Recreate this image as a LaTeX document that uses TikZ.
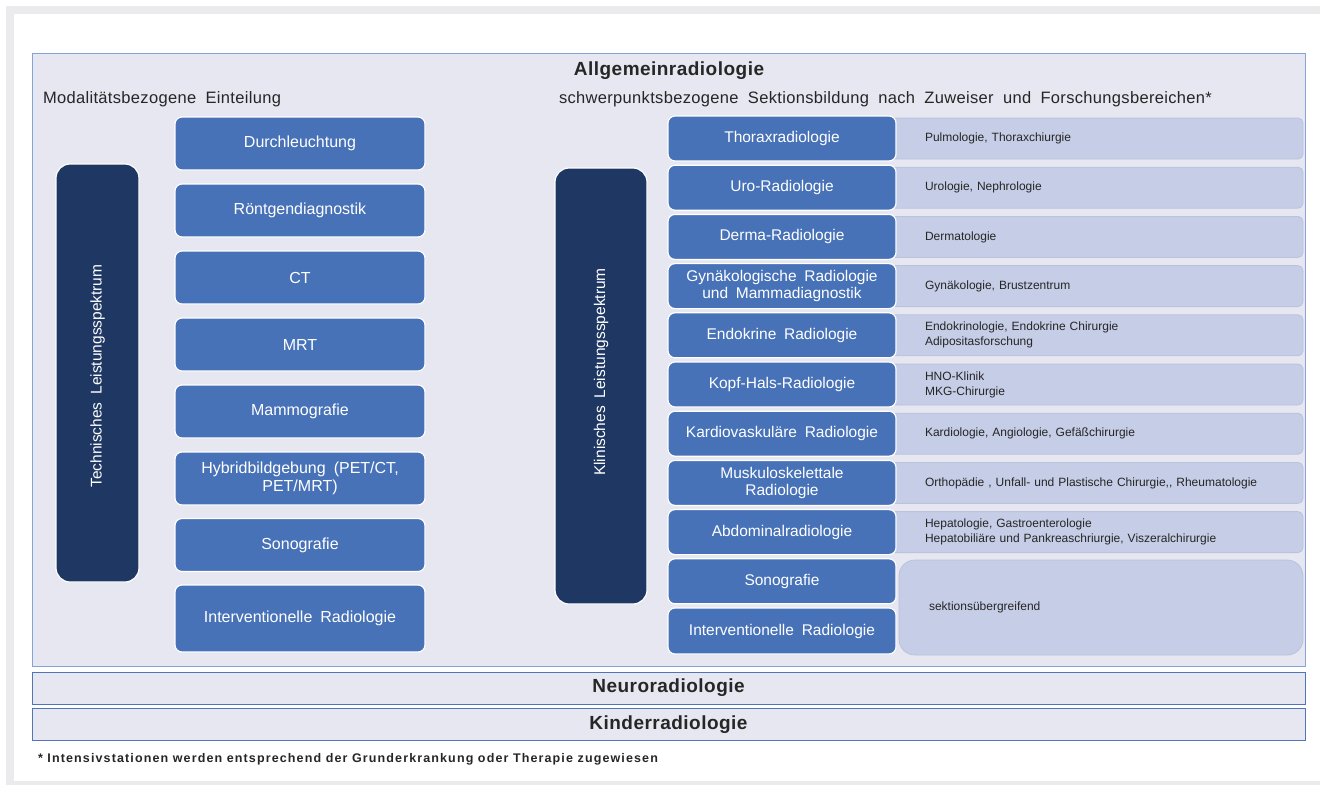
\documentclass[tikz,border=0pt]{standalone}
\usepackage{fontspec}
\setmainfont{Liberation Sans}
% Liberation Sans variants with wider word gaps / tracking
\newfontfamily\boxfont[WordSpace=1.6]{Liberation Sans}
\newfontfamily\tagfont[WordSpace=1.8]{Liberation Sans}
\newfontfamily\headfont[WordSpace=1.9,LetterSpace=2]{Liberation Sans}
\newfontfamily\titlefont[LetterSpace=2.5]{Liberation Sans}
\newfontfamily\notefont[LetterSpace=9]{Liberation Sans}
\definecolor{boxblue}{RGB}{71,114,184}
\definecolor{navy}{RGB}{31,56,99}
\definecolor{panel}{RGB}{230,231,240}
\definecolor{panelline}{RGB}{133,163,214}
\definecolor{barline}{RGB}{80,118,185}
\definecolor{tagfill}{RGB}{198,205,230}
\definecolor{tagline}{RGB}{186,194,220}
\definecolor{frame}{RGB}{235,235,237}
\definecolor{ink}{RGB}{38,38,38}
\begin{document}
\begin{tikzpicture}[x=1pt,y=-1pt,
  every node/.style={inner sep=0pt,outer sep=0pt,align=center},
  modbox/.style={font=\boxfont\fontsize{16}{18}\selectfont,
    draw=white,line width=1.2pt,fill=boxblue,rounded corners=7pt,
    text=white,minimum width=250pt,minimum height=53pt},
  secbox/.style={font=\boxfont\fontsize{15.5}{17.5}\selectfont,
    draw=white,line width=1.2pt,fill=boxblue,rounded corners=7pt,
    text=white,minimum width=228pt,minimum height=45pt},
  spine/.style={draw=white,line width=1.2pt,fill=navy,rounded corners=14pt},
  spinetext/.style={font=\boxfont\fontsize{15.5}{17.5}\selectfont,
    text=white,rotate=90},
  tagbox/.style={fill=tagfill,draw=tagline,line width=0.8pt,rounded corners=5pt,
    anchor=west,minimum height=41pt,inner xsep=35pt,text width=343pt,align=left,
    text=ink,font=\tagfont\fontsize{12}{15}\selectfont},
  bar/.style={draw=barline,line width=0.8pt,fill=panel,minimum width=1273pt,
    minimum height=32pt,text=ink,font=\titlefont\bfseries\fontsize{19}{21}\selectfont},
  heading/.style={text=ink,anchor=west,font=\headfont\fontsize{16.5}{18}\selectfont}
]
\useasboundingbox (0,0) rectangle (1320,785);

% page frame
\fill[frame] (6,6) rectangle (1320,785);
\fill[white] (14,14) rectangle (1320,781);

% general radiology panel
\node[draw=panelline,line width=0.9pt,fill=panel,minimum width=1273pt,minimum height=613pt]
  (panel) at (668.5,359.5) {};
\node[text=ink,font=\titlefont\bfseries\fontsize{19}{21}\selectfont]
  (title) at (669,71) {Allgemeinradiologie};
\node[heading] (lhead) at (43,99) {Modalitätsbezogene Einteilung};
\node[heading] (rhead) at (559,99) {schwerpunktsbezogene Sektionsbildung nach Zuweiser und Forschungsbereichen*};

% technical spectrum
\node[spine,minimum width=83pt,minimum height=418pt] (tech) at (97.5,373) {};
\node[spinetext] (techtext) at (97.5,376) {Technisches Leistungsspektrum};
\node[modbox] (m1) at (300,143.5) {Durchleuchtung};
\node[modbox] (m2) at (300,210.5) {Röntgendiagnostik};
\node[modbox] (m3) at (300,277.5) {CT};
\node[modbox] (m4) at (300,344.5) {MRT};
\node[modbox] (m5) at (300,411.5) {Mammografie};
\node[modbox] (m6) at (300,478.5) {Hybridbildgebung (PET/CT,\\PET/MRT)};
\node[modbox] (m7) at (300,545) {Sonografie};
\node[modbox,minimum height=67pt] (m8) at (300,618.5) {Interventionelle Radiologie};

% clinical spectrum
\node[spine,minimum width=92pt,minimum height=436pt] (clin) at (601,386) {};
\node[spinetext] (clintext) at (601,372) {Klinisches Leistungsspektrum};

% referring departments (drawn first, partly covered by the sections)
\node[tagbox] (t1) at (890,138.5) {Pulmologie, Thoraxchiurgie};
\node[tagbox] (t2) at (890,187.7) {Urologie, Nephrologie};
\node[tagbox] (t3) at (890,236.9) {Dermatologie};
\node[tagbox] (t4) at (890,286.1) {Gynäkologie, Brustzentrum};
\node[tagbox] (t5) at (890,335.3) {Endokrinologie, Endokrine Chirurgie\\Adipositasforschung};
\node[tagbox] (t6) at (890,384.5) {HNO-Klinik\\MKG-Chirurgie};
\node[tagbox] (t7) at (890,433.7) {Kardiologie, Angiologie, Gefäßchirurgie};
\node[tagbox] (t8) at (890,482.9) {Orthopädie , Unfall- und Plastische Chirurgie,, Rheumatologie};
\node[tagbox] (t9) at (890,532.1) {Hepatologie, Gastroenterologie\\Hepatobiliäre und Pankreaschriurgie, Viszeralchirurgie};
\node[tagbox,rounded corners=16pt,minimum height=95pt,inner xsep=30pt,text width=344pt]
  (t10) at (899,607.5) {sektionsübergreifend};

\node[secbox] (s1) at (782,138.5) {Thoraxradiologie};
\node[secbox] (s2) at (782,187.7) {Uro-Radiologie};
\node[secbox] (s3) at (782,236.9) {Derma-Radiologie};
\node[secbox] (s4) at (782,286.1) {Gynäkologische Radiologie\\und Mammadiagnostik};
\node[secbox] (s5) at (782,335.3) {Endokrine Radiologie};
\node[secbox] (s6) at (782,384.5) {Kopf-Hals-Radiologie};
\node[secbox] (s7) at (782,433.7) {Kardiovaskuläre Radiologie};
\node[secbox] (s8) at (782,482.9) {Muskuloskelettale\\Radiologie};
\node[secbox] (s9) at (782,532.1) {Abdominalradiologie};
\node[secbox] (s10) at (782,581.3) {Sonografie};
\node[secbox,minimum height=46pt] (s11) at (782,631) {Interventionelle Radiologie};

% further divisions
\node[bar] (neuro) at (668.5,688) {Neuroradiologie};
\node[bar] (kinder) at (668.5,724.5) {Kinderradiologie};

% footnote
\node[anchor=west,text=ink,font=\notefont\bfseries\fontsize{12.5}{14}\selectfont]
  (note) at (38,759)
  {* Intensivstationen werden entsprechend der Grunderkrankung oder Therapie zugewiesen};
\end{tikzpicture}
\end{document}
